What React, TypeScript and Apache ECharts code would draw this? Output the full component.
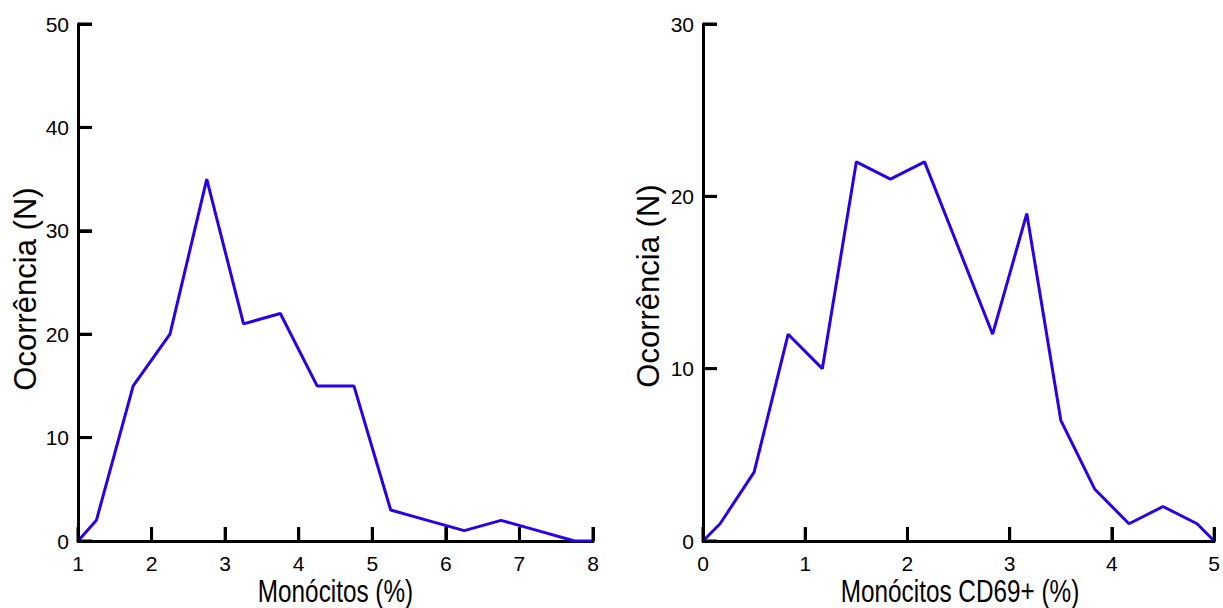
import React, { useEffect, useRef } from "react";
import * as echarts from "echarts";

// Left chart: Monócitos (%)
const leftX = [1, 1.25, 1.75, 2.25, 2.75, 3.25, 3.75, 4.25, 4.75, 5.25, 5.75, 6.25, 6.75, 7.25, 7.75, 8];
const leftY = [0, 2, 15, 20, 35, 21, 22, 15, 15, 3, 2, 1, 2, 1, 0, 0];

// Right chart: Monócitos CD69+ (%)
const rightX = [0, 0.167, 0.5, 0.833, 1.167, 1.5, 1.833, 2.167, 2.5, 2.833, 3.167, 3.5, 3.833, 4.167, 4.5, 4.833, 5];
const rightY = [0, 1, 4, 12, 10, 22, 21, 22, 17, 12, 19, 7, 3, 1, 2, 1, 0];

// Tick values
const leftXTicks = [1, 2, 3, 4, 5, 6, 7, 8];
const leftYTicks = [0, 10, 20, 30, 40, 50];
const rightXTicks = [0, 1, 2, 3, 4, 5];
const rightYTicks = [0, 10, 20, 30];

const leftXTitle = "Monócitos (%)";
const rightXTitle = "Monócitos CD69+ (%)";
const yTitle = "Ocorrência (N)";

const LINE_COLOR = "#2a00e6";
const FONT = "'Liberation Sans', Arial, sans-serif";
const TICK_LEN = 14;

function zip(xs: number[], ys: number[]) {
  return xs.map((x, i) => [x, ys[i]]);
}

function makeAxis(extra: any, labelMargin: number) {
  return {
    type: "value",
    ...extra,
    axisLine: { show: true, lineStyle: { color: "#000", width: 3 } },
    axisTick: { show: true, inside: true, length: TICK_LEN, lineStyle: { color: "#000", width: 3 } },
    splitLine: { show: false },
    axisLabel: { color: "#000", fontSize: 21, fontFamily: FONT, margin: labelMargin },
  };
}

// Tick marks drawn as rect symbols at the tick values
function tickSeries(gi: number, xTicks: number[], yTicks: number[]) {
  const base = {
    type: "scatter",
    xAxisIndex: gi,
    yAxisIndex: gi,
    symbol: "rect",
    silent: true,
    clip: false,
    z: 10,
    itemStyle: { color: "#000", opacity: 1 },
  };
  return [
    {
      ...base,
      data: xTicks.map((v) => [v, yTicks[0]]),
      symbolSize: [3, TICK_LEN],
      symbolOffset: [0, -TICK_LEN / 2],
    },
    {
      ...base,
      data: yTicks.map((v) => [xTicks[0], v]),
      symbolSize: [TICK_LEN, 3],
      symbolOffset: [TICK_LEN / 2, 0],
    },
  ];
}

export default function App() {
  const ref = useRef<HTMLDivElement>(null);

  useEffect(() => {
    document.body.style.margin = "0";
    const chart = echarts.init(ref.current!, null, { renderer: "svg" });

    chart.setOption({
      animation: false,
      backgroundColor: "#fff",
      grid: [
        { left: 78, top: 24, width: 515, height: 517 },
        { left: 703, top: 24, width: 514, height: 517 },
      ],
      xAxis: [
        makeAxis({ gridIndex: 0, min: 1, max: 8, interval: 1 }, 12),
        makeAxis({ gridIndex: 1, min: 0, max: 5, interval: 1 }, 12),
      ],
      yAxis: [
        makeAxis({ gridIndex: 0, min: 0, max: 50, interval: 10 }, 9),
        makeAxis({ gridIndex: 1, min: 0, max: 30, interval: 10 }, 9),
      ],
      series: [
        {
          type: "line", xAxisIndex: 0, yAxisIndex: 0,
          data: zip(leftX, leftY), showSymbol: false,
          lineStyle: { color: LINE_COLOR, width: 3 },
        },
        {
          type: "line", xAxisIndex: 1, yAxisIndex: 1,
          data: zip(rightX, rightY), showSymbol: false,
          lineStyle: { color: LINE_COLOR, width: 3 },
        },
        ...tickSeries(0, leftXTicks, leftYTicks),
        ...tickSeries(1, rightXTicks, rightYTicks),
      ],
      graphic: [
        {
          type: "text", x: 25, y: 289, rotation: Math.PI / 2,
          style: { text: yTitle, align: "center", verticalAlign: "middle", fontSize: 31, fontFamily: FONT, fill: "#000" },
        },
        {
          type: "text", x: 648, y: 286, rotation: Math.PI / 2,
          style: { text: yTitle, align: "center", verticalAlign: "middle", fontSize: 31, fontFamily: FONT, fill: "#000" },
        },
        {
          type: "text", x: 335.5, y: 591, scaleX: 0.76,
          style: { text: leftXTitle, align: "center", verticalAlign: "middle", fontSize: 32, fontFamily: FONT, fill: "#000" },
        },
        {
          type: "text", x: 960, y: 591, scaleX: 0.76,
          style: { text: rightXTitle, align: "center", verticalAlign: "middle", fontSize: 32, fontFamily: FONT, fill: "#000" },
        },
      ],
    });

    return () => chart.dispose();
  }, []);

  return (
    <div
      ref={ref}
      style={{ position: "absolute", left: 0, top: 0, width: 1223, height: 608, background: "#fff" }}
    />
  );
}
